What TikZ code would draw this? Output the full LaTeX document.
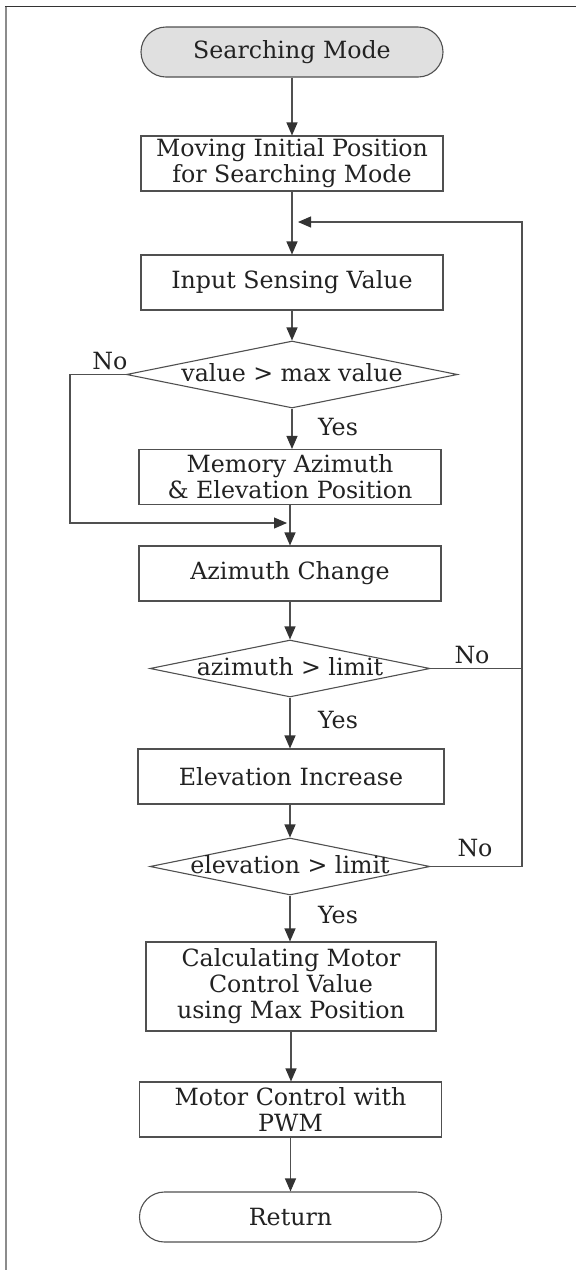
\documentclass[tikz,border=0pt]{standalone}
\usepackage{fontspec}
\setmainfont{DejaVu Serif}
\usetikzlibrary{shapes.geometric,shapes.misc,arrows.meta}
\definecolor{lc}{HTML}{505050}
\definecolor{tc}{HTML}{222222}
\definecolor{hc}{HTML}{333333}
\definecolor{tf}{HTML}{E0E0E0}
\begin{document}
\begin{tikzpicture}[x=1pt,y=1pt,
  every node/.style={font=\fontsize{23.7}{26}\selectfont, text=tc},
  stepbox/.style={draw=lc, line width=1.1pt, rectangle, minimum width=302pt, minimum height=55pt, inner sep=0pt, align=center},
  term/.style={draw=lc, line width=1.1pt, rounded rectangle, minimum width=302pt, minimum height=50pt, inner sep=0pt, align=center},
  dec/.style={draw=lc, line width=1.1pt, diamond, inner sep=0pt},
  lab/.style={inner sep=0pt},
  conn/.style={draw=lc, line width=1.1pt},
  arr/.style={conn, -{Triangle[length=13pt,width=11pt,color=hc,fill=hc]}}
]
\useasboundingbox (0,0) rectangle (576,-1270);
\fill[white] (0,0) rectangle (576,-1270);
% frame
\draw[color=black!80, line width=1.5pt] (5,-6.5) -- (576,-6.5);
\draw[color=black!45, line width=2pt] (5.5,-6.5) -- (5.5,-1270);

\newcommand{\dtext}[1]{\raisebox{-7pt}[0pt][0pt]{\makebox[0pt]{#1}}}

\node[term, fill=tf] (start) at (292,-52) {Searching Mode};
\node[stepbox] (init) at (292,-163.5) {Moving Initial Position\\for Searching Mode};
\node[stepbox] (input) at (292,-282.5) {Input Sensing Value};
\node[dec, minimum width=331pt, minimum height=67pt] (d1) at (292,-374.5) {\dtext{value > max value}};
\node[stepbox] (mem) at (290,-477) {Memory Azimuth\\\& Elevation Position};
\node[stepbox] (az) at (290,-573.5) {Azimuth Change};
\node[dec, minimum width=280pt, minimum height=57pt] (d2) at (290,-668.5) {\dtext{azimuth > limit}};
\node[stepbox, minimum width=306pt] (el) at (291,-776.5) {Elevation Increase};
\node[dec, minimum width=280pt, minimum height=57pt] (d3) at (290,-866.5) {\dtext{elevation > limit}};
\node[stepbox, minimum width=290pt, minimum height=89pt] (calc) at (291,-986.5) {Calculating Motor\\Control Value\\using Max Position};
\node[stepbox] (pwm) at (290.5,-1109.5) {Motor Control with\\PWM};
\node[term] (ret) at (290.5,-1217) {Return};

\coordinate (loopin) at (298,-222);
\coordinate (loopR) at (522,-222);
\coordinate (joinin) at (287,-523);
\coordinate (noL) at (70,-374.5);

\draw[arr] (start.south) -- (init.north);
\draw[arr] (init.south) -- (input.north);
\draw[arr] (input.south) -- (d1.north);
\draw[arr] (d1.south) -- (d1.south |- mem.north);
\draw[arr] (mem.south) -- (mem.south |- az.north);
\draw[arr] (az.south) -- (d2.north);
\draw[arr] (d2.south) -- (d2.south |- el.north);
\draw[arr] (el.south -| d3.north) -- (d3.north);
\draw[arr] (d3.south) -- (d3.south |- calc.north);
\draw[arr] (calc.south) -- (calc.south |- pwm.north);
\draw[arr] (pwm.south) -- (ret.north);

% No branch of d1
\draw[arr] (d1.west) -- (noL) -- (noL |- joinin) -- (joinin);
% loops back
\draw[arr] (d3.east) -- (loopR |- d3) -- (loopR) -- (loopin);
\draw[conn] (d2.east) -- (loopR |- d2);

% labels
\node[lab] (no1) at (110,-361) {No};
\node[lab] (yes1) at (338,-427) {Yes};
\node[lab] (no2) at (472,-655) {No};
\node[lab] (yes2) at (338,-720) {Yes};
\node[lab] (no3) at (475,-848) {No};
\node[lab] (yes3) at (338,-915) {Yes};
\end{tikzpicture}
\end{document}
